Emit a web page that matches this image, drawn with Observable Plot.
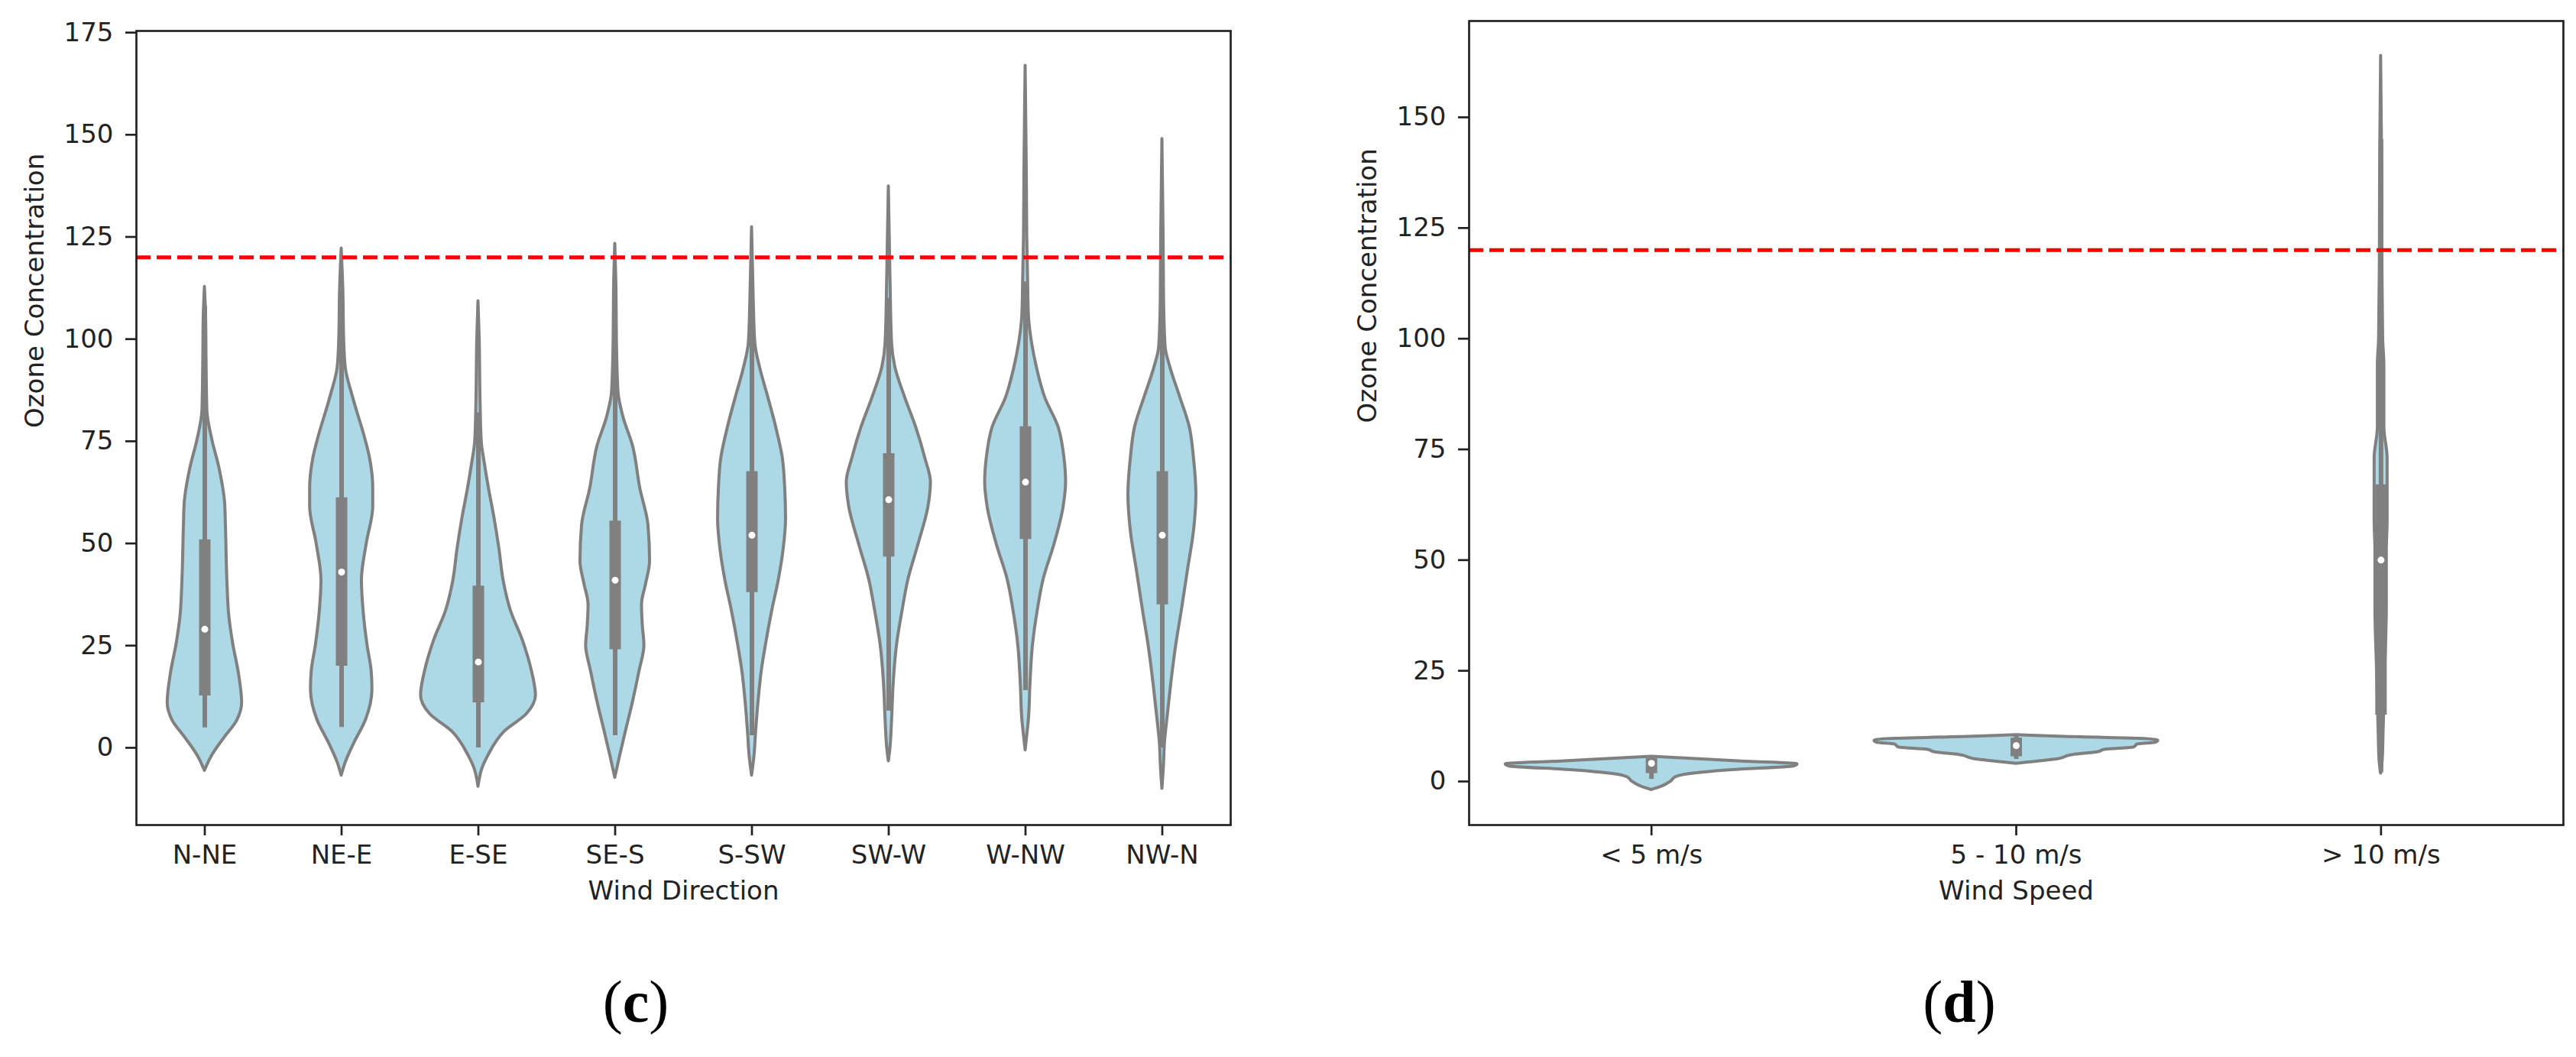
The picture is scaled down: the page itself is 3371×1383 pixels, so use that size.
<!DOCTYPE html>
<html>
<head>
<meta charset="utf-8">
<script src="https://cdn.jsdelivr.net/npm/d3@7"></script>
<script src="https://cdn.jsdelivr.net/npm/@observablehq/plot@0.6"></script>
<style>
  html, body { margin: 0; padding: 0; background: white; }
  #page { position: relative; width: 3371px; height: 1383px; background: white; overflow: hidden; }
  .panel { position: absolute; top: 0; }
  .cap { position: absolute; width: 200px; text-align: center; font-family: "Liberation Serif", "Times New Roman", serif; font-size: 78px; line-height: 78px; color: #000; }
</style>
</head>
<body>
<div id="page">
  <div id="left" class="panel" style="left:0px"></div>
  <div id="right" class="panel" style="left:1700px"></div>
  <div class="cap" style="left:732px; top:1272px">(<b>c</b>)</div>
  <div class="cap" style="left:2464px; top:1272px">(<b>d</b>)</div>
</div>
<script>
// ---------- Panel (c): wind direction ----------
const directions = ["N-NE", "NE-E", "E-SE", "SE-S", "S-SW", "SW-W", "W-NW", "NW-N"];

// violin density profiles: [ozone value, relative density width]
const kdeNNE = [[-5.6,0],[-1.9,9],[2.4,24],[6.7,40],[11,46],[18.2,42],[25.4,35],[32.5,30],[39.7,28],[54,26],[59.8,25],[68.4,18],[75.5,9],[82.6,3],[95,2],[105,1.5],[112.8,0]];
const kdeNEE = [[-6.8,0],[-3.6,5],[0.9,15],[6.8,30],[14.3,38],[18.8,37],[25,32],[33.6,27],[41,25],[50,31],[59,39],[63.4,39],[70.9,35],[75,30],[85.8,14],[93,5],[100,3],[112,2],[122.2,0]];
const kdeESE = [[-9.5,0],[-5,5],[-2,12],[3.9,32],[8.3,60],[12.8,71],[18.8,66],[26.2,55],[33.6,40],[41,31],[48.5,26],[56,20],[63.4,13],[69.4,8],[75,4],[85,2.5],[100,1.5],[109.3,0]];
const kdeSES = [[-7.3,0],[-2,6],[3.9,13],[11.3,22],[18.8,30],[25,36],[30,34],[35,33],[40,38],[45.6,43],[54.5,41],[63.4,31],[73.8,22],[81,10],[87,4],[100,2],[112,1.5],[123.3,0]];
const kdeSSW = [[-6.8,0],[-2,3],[3.9,5],[11.3,8],[18.8,12],[25,17],[33.6,25],[41,33],[48.5,39],[56,42],[63.4,41],[70.9,38],[78.3,30],[85.8,20],[93,10],[99,4],[110,2],[127.4,0]];
const kdeSWW = [[-3.3,0],[0,2],[6.8,4],[15.8,6],[25,10],[33.6,17],[41,24],[50,37],[59,49],[65,52],[70.9,45],[78.3,34],[85.8,20],[93.2,8],[99,4],[115,2],[137.4,0]];
const kdeWNW = [[-0.6,0],[3,2],[6.8,4],[15.8,6],[25,9],[33.6,15],[41,22],[50,36],[59,47],[65,50],[70.9,48],[78.3,41],[85.8,24],[93,14],[99,8],[106,4],[115,3],[125,2],[140,1.5],[166.9,0]];
const kdeNWN = [[-10,0],[-4,2],[0.9,3],[6.8,6],[15.8,11],[25,17],[33.6,24],[44,32],[53,39],[62,42],[70.9,39],[78.3,34],[85.8,22],[93,10],[98,4],[110,2],[125,1.5],[149,0]];

const dirQ1     = [12.7, 20, 11, 24, 38, 46.7, 51, 35];
const dirMedian = [29, 43, 21, 41, 52, 60.7, 65, 52];
const dirQ3     = [50.9, 61.2, 39.6, 55.5, 67.6, 72, 78.6, 67.6];
const dirWhiskerLow  = [4.9, 5, 0, 3, 3, 9, 14, 0];
const dirWhiskerHigh = [108, 112, 82, 102, 111, 110, 114, 116];
const dirTicks = [0, 25, 50, 75, 100, 125, 150, 175];

// ---------- Panel (d): wind speed ----------
const speeds = ["< 5 m/s", "5 - 10 m/s", "> 10 m/s"];
const kdeLow  = [[-1.9,0],[-1.2,12],[0,24],[1,30],[1.5,40],[2.6,100],[3.4,175],[3.9,180],[4.5,116],[5,63],[5.6,0]];
const kdeMid  = [[4,0],[4.5,25],[5,50],[6,70],[6.6,100],[7.2,110],[7.7,145],[8.4,150],[8.8,172],[9.2,175],[9.6,160],[10,80],[10.3,25],[10.5,0]];
const kdeHigh = [[1.8,0],[5,2],[11,3],[25,5],[39,7],[52,7],[59,8],[66,8],[73,8],[80,4],[94,4],[100,2.5],[120,1.5],[140,1.2],[163.9,0]];

const spdQ1     = [1.8, 5.6, 15];
const spdMedian = [4.1, 8.1, 50];
const spdQ3     = [5.2, 9.8, 67];
const spdWhiskerLow  = [0.5, 5, 2];
const spdWhiskerHigh = [5.6, 10.3, 145];
const spdTicks = [0, 25, 50, 75, 100, 125, 150];

const limitValue = 120;
const yLabel = "Ozone Concentration";

function violinChart({cats, kdes, q1, med, q3, wlo, whi, yDomain, yTicks, maxHW, xLabel,
                      width, height, marginLeft, marginRight, marginTop, marginBottom}) {
  const rows = kdes.flatMap((k, i) => k.map(([v, d]) => ({i, v, d})));
  const maxD = d3.max(rows, r => r.d);
  const boxes = cats.map((c, i) => ({i, q1: q1[i], med: med[i], q3: q3[i], lo: wlo[i], hi: whi[i]}));
  const gray = "#808080";
  return Plot.plot({
    width, height, marginLeft, marginRight, marginTop, marginBottom,
    style: {fontFamily: "DejaVu Sans", fontSize: "34px", color: "#222", background: "white"},
    x: {domain: [-0.5, cats.length - 0.5], axis: null},
    y: {domain: yDomain, axis: null},
    marks: [
      Plot.areaX(rows, {
        y: "v",
        x1: r => r.i - r.d / maxD * maxHW,
        x2: r => r.i + r.d / maxD * maxHW,
        z: "i", fill: "#add8e6", stroke: gray, strokeWidth: 4, strokeLinejoin: "round",
        curve: "monotone-y"
      }),
      Plot.ruleX(boxes, {x: "i", y1: "lo", y2: "hi", stroke: gray, strokeWidth: 6}),
      Plot.ruleX(boxes, {x: "i", y1: "q1", y2: "q3", stroke: gray, strokeWidth: 15}),
      Plot.dot(boxes, {x: "i", y: "med", r: 4.5, fill: "white", stroke: null}),
      Plot.ruleY([limitValue], {stroke: "red", strokeWidth: 5, strokeDasharray: "19,8"}),
      Plot.axisY({ticks: yTicks, tickSize: 14, tickPadding: 16, strokeWidth: 2.7, label: null, fontSize: 34}),
      Plot.axisX({ticks: d3.range(cats.length), tickFormat: i => cats[i], tickSize: 14, tickPadding: 12, strokeWidth: 2.7, label: null, fontSize: 34}),
      Plot.text([xLabel], {frameAnchor: "bottom", dy: 97, fontSize: 34, fill: "#222"}),
      Plot.text([yLabel], {frameAnchor: "left", rotate: -90, dx: -132, fontSize: 34, fill: "#222"}),
      Plot.frame({stroke: "#222", strokeWidth: 2.7})
    ]
  });
}

document.getElementById("left").append(violinChart({
  cats: directions,
  kdes: [kdeNNE, kdeNEE, kdeESE, kdeSES, kdeSSW, kdeSWW, kdeWNW, kdeNWN],
  q1: dirQ1, med: dirMedian, q3: dirQ3, wlo: dirWhiskerLow, whi: dirWhiskerHigh,
  yDomain: [-18.9, 175.4], yTicks: dirTicks, maxHW: 0.42, xLabel: "Wind Direction",
  width: 1700, height: 1200, marginLeft: 178, marginRight: 90, marginTop: 40, marginBottom: 121
}));

document.getElementById("right").append(violinChart({
  cats: speeds,
  kdes: [kdeLow, kdeMid, kdeHigh],
  q1: spdQ1, med: spdMedian, q3: spdQ3, wlo: spdWhiskerLow, whi: spdWhiskerHigh,
  yDomain: [-9.84, 171.75], yTicks: spdTicks, maxHW: 0.4, xLabel: "Wind Speed",
  width: 1671, height: 1200, marginLeft: 222, marginRight: 17, marginTop: 27, marginBottom: 121
}));
</script>
</body>
</html>
